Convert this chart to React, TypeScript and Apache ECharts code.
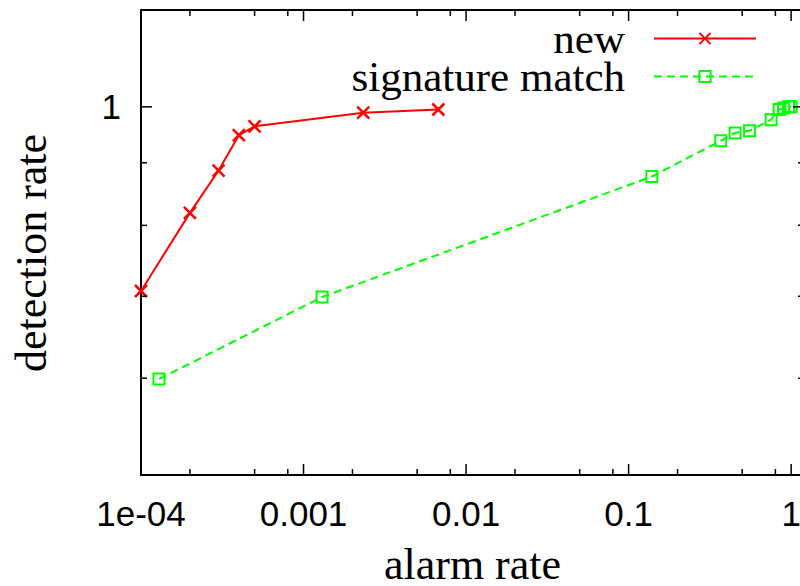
import React, { useEffect, useRef } from 'react';
import * as echarts from 'echarts';

// "new" series (alarm rate, detection rate)
const newAlarm = [1e-4, 2e-4, 3e-4, 4e-4, 5e-4, 2.33e-3, 6.75e-3];
const newDetect = [0.707, 0.819, 0.887, 0.948, 0.964, 0.989, 0.995];

// "signature match" series
const sigAlarm = [1.29e-4, 1.3e-3, 0.139, 0.369, 0.452, 0.555, 0.753, 0.844, 0.899, 0.965, 1.0];
const sigDetect = [0.599, 0.699, 0.877, 0.938, 0.952, 0.956, 0.976, 0.995, 0.998, 1.0, 1.0];

// axis ticks
const xMajorTicks = [1e-4, 1e-3, 0.01, 0.1, 1];
const xTickLabels = ['1e-04', '0.001', '0.01', '0.1', '1'];
const xMinorTicks = [2e-4, 5e-4, 8e-4, 2e-3, 5e-3, 8e-3, 0.02, 0.05, 0.08, 0.2, 0.5, 0.8];
const yMajorTicks = [1];
const yTickLabels = ['1'];
const yMinorTicks = [0.6, 0.7, 0.8, 0.9];

const X_MIN = 1e-4;
const X_MAX = 1.2;
const Y_MIN = 0.5;
const Y_MAX = 1.2;

const MAJOR_LEN = 11;
const MINOR_LEN = 6;
const LABEL_FONT = 'Liberation Sans';
const TITLE_FONT = 'Liberation Serif';

export default function App() {
  const ref = useRef<HTMLDivElement>(null);

  useEffect(() => {
    document.body.style.margin = '0';
    if (!ref.current) return;
    const chart = echarts.init(ref.current, null, { renderer: 'svg' });

    // tick data: [xValue, yValue, kind(0 = x tick, 1 = y tick), length, labelIndex]
    const tickData: number[][] = [];
    xMajorTicks.forEach((v) => tickData.push([v, 1, 0, MAJOR_LEN, -1]));
    xMinorTicks.forEach((v) => tickData.push([v, 1, 0, MINOR_LEN, -1]));
    yMajorTicks.forEach((v, i) => tickData.push([0.01, v, 1, MAJOR_LEN, i]));
    yMinorTicks.forEach((v) => tickData.push([0.01, v, 1, MINOR_LEN, -1]));

    const tickStyle = { stroke: '#000', lineWidth: 1.5 };

    const legendText = { fontFamily: TITLE_FONT, fontSize: 43, color: '#000', lineHeight: 34, padding: [0, 24, 0, 0] };

    const option: any = {
      animation: false,
      backgroundColor: '#fff',
      grid: {
        left: 141,
        top: 10,
        right: -4,
        bottom: 111,
        containLabel: false,
        outerBoundsMode: 'none',
        show: true,
        borderColor: '#000',
        borderWidth: 2,
        backgroundColor: 'transparent',
      },
      xAxis: {
        type: 'log',
        logBase: 10,
        min: X_MIN,
        max: X_MAX,
        axisLine: { show: false },
        axisTick: { show: false },
        splitLine: { show: false },
        axisLabel: {
          margin: 21,
          showMaxLabel: false,
          hideOverlap: false,
          fontFamily: LABEL_FONT,
          fontSize: 35,
          color: '#000',
          formatter: (v: number) => {
            const i = xMajorTicks.findIndex((t) => Math.abs(Math.log10(v) - Math.log10(t)) < 1e-6);
            return i >= 0 ? xTickLabels[i] : '';
          },
        },
        name: 'alarm rate',
        nameLocation: 'middle',
        nameGap: 69,
        nameTextStyle: { fontFamily: TITLE_FONT, fontSize: 44, color: '#000', lineHeight: 40 },
      },
      yAxis: {
        type: 'log',
        logBase: 10,
        min: Y_MIN,
        max: Y_MAX,
        axisLine: { show: false },
        axisTick: { show: false },
        axisLabel: { show: false },
        splitLine: { show: false },
      },
      legend: [
        {
          data: ['new'],
          right: 43,
          top: 17,
          orient: 'horizontal',
          align: 'right',
          padding: 0,
          itemWidth: 102,
          itemHeight: 14,
          selectedMode: false,
          textStyle: legendText,
        },
        {
          data: ['signature match'],
          right: 43,
          top: 55,
          orient: 'horizontal',
          align: 'right',
          padding: 0,
          itemWidth: 102,
          itemHeight: 14,
          selectedMode: false,
          textStyle: legendText,
        },
      ],
      graphic: [
        {
          type: 'text',
          x: 31,
          y: 253,
          rotation: Math.PI / 2,
          style: {
            text: 'detection rate',
            font: `44px "${TITLE_FONT}"`,
            fill: '#000',
            align: 'center',
            verticalAlign: 'middle',
          },
        },
      ],
      series: [
        {
          type: 'custom',
          name: 'ticks',
          silent: true,
          clip: false,
          encode: { x: 0, y: 1 },
          data: tickData,
          z: 5,
          renderItem: (_params: any, api: any) => {
            const kind = api.value(2);
            const len = api.value(3);
            if (kind === 0) {
              const v = api.value(0);
              const b = api.coord([v, Y_MIN]);
              const t = api.coord([v, Y_MAX]);
              return {
                type: 'group',
                children: [
                  { type: 'line', shape: { x1: b[0], y1: b[1], x2: b[0], y2: b[1] - len }, style: tickStyle },
                  { type: 'line', shape: { x1: t[0], y1: t[1], x2: t[0], y2: t[1] + len }, style: tickStyle },
                ],
              };
            }
            const v = api.value(1);
            const l = api.coord([X_MIN, v]);
            const r = api.coord([X_MAX, v]);
            const li = api.value(4);
            const children: any[] = [
              { type: 'line', shape: { x1: l[0], y1: l[1], x2: l[0] + len, y2: l[1] }, style: tickStyle },
              { type: 'line', shape: { x1: r[0], y1: r[1], x2: r[0] - len, y2: r[1] }, style: tickStyle },
            ];
            if (li >= 0) {
              children.push({
                type: 'text',
                x: l[0] - 20,
                y: l[1],
                style: {
                  text: yTickLabels[li],
                  fontFamily: LABEL_FONT,
                  fontSize: 35,
                  fill: '#000',
                  align: 'right',
                  verticalAlign: 'middle',
                },
              });
            }
            return { type: 'group', children };
          },
        },
        {
          type: 'line',
          name: 'new',
          data: newAlarm.map((x, i) => [x, newDetect[i]]),
          symbol: 'path://M0,0L10,10M10,0L0,10',
          symbolSize: 12,
          lineStyle: { color: '#ff0000', width: 2 },
          itemStyle: { color: '#ff0000', borderColor: '#ff0000', borderWidth: 2.5 },
          emphasis: { disabled: true },
          z: 3,
        },
        {
          type: 'line',
          name: 'signature match',
          data: sigAlarm.map((x, i) => [x, sigDetect[i]]),
          symbol: 'rect',
          symbolSize: 11,
          lineStyle: { color: '#00ff00', width: 2, type: [8, 5] },
          itemStyle: { color: 'rgba(0,0,0,0)', borderColor: '#00ff00', borderWidth: 2 },
          emphasis: { disabled: true },
          z: 3,
        },
      ],
    };

    chart.setOption(option);
    return () => chart.dispose();
  }, []);

  return <div ref={ref} style={{ position: 'fixed', left: 0, top: 0, width: 800, height: 586 }} />;
}
